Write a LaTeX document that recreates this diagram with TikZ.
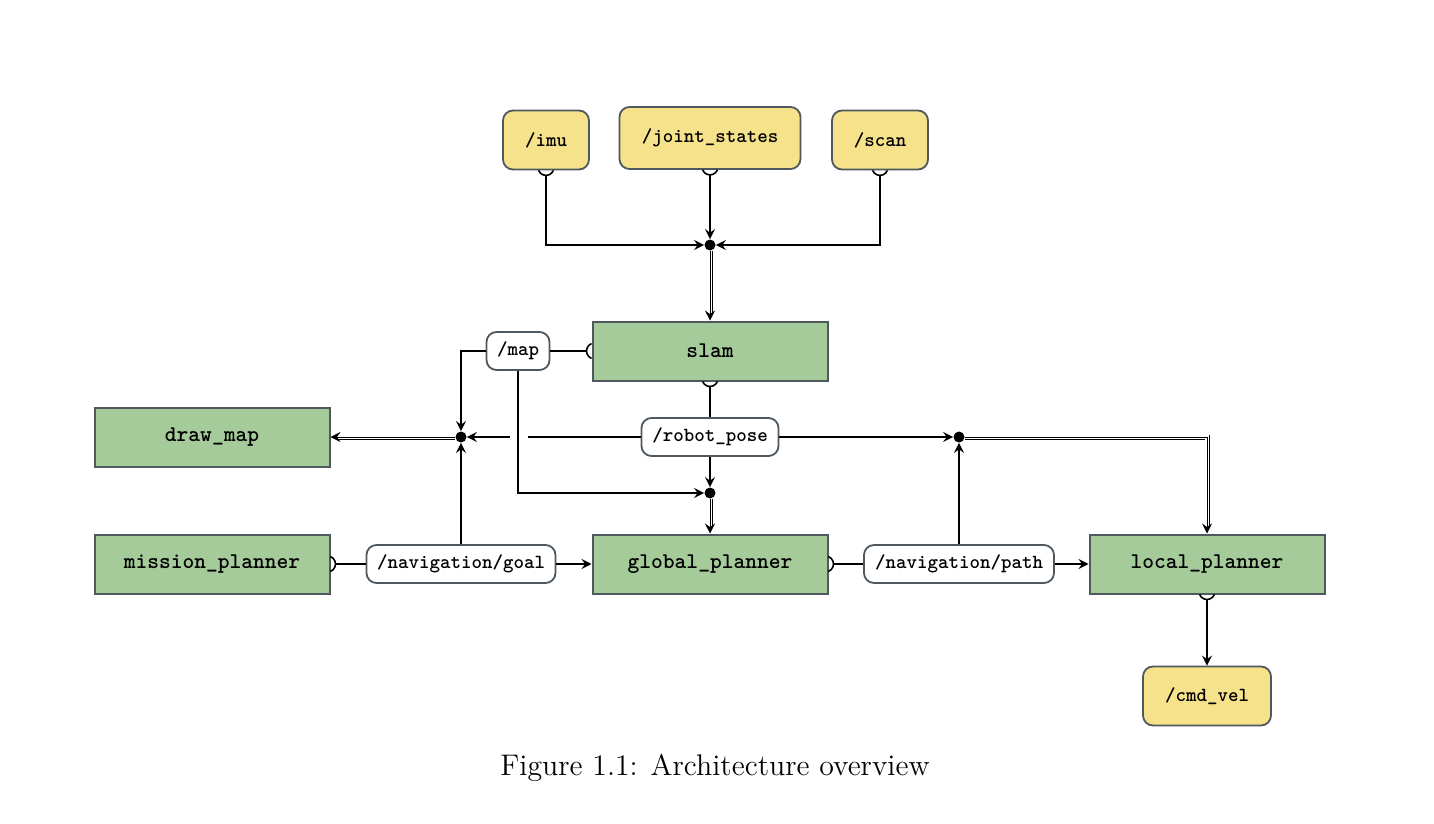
\documentclass[tikz,border=0pt]{standalone}
\usetikzlibrary{arrows.meta,calc}
\definecolor{ynode}{RGB}{246,226,139}
\definecolor{gnode}{RGB}{165,203,154}
\definecolor{bord}{RGB}{78,88,94}
\newcommand{\sockS}[1]{\draw[conn] ([yshift=1.5pt]#1) ++(202:4pt) arc[start angle=202,end angle=338,radius=4pt];}
\newcommand{\sockE}[1]{\draw[conn] ([xshift=-1.5pt]#1) ++(68:4pt) arc[start angle=68,end angle=-68,radius=4pt];}
\newcommand{\sockW}[1]{\draw[conn] ([xshift=1.5pt]#1) ++(112:4pt) arc[start angle=112,end angle=248,radius=4pt];}
\begin{document}
\begin{tikzpicture}[x=0.5pt,y=-0.5pt,
  proc/.style={draw=bord, fill=gnode, line width=1pt, minimum width=117.5pt, minimum height=29.5pt, inner sep=0pt,
    font=\fontsize{11.2}{13}\selectfont\ttfamily\bfseries},
  topic/.style={draw=bord, fill=ynode, rounded corners=5pt, line width=0.9pt, minimum height=29.5pt, inner sep=0pt,
    font=\fontsize{10}{12}\selectfont\ttfamily\bfseries},
  lbl/.style={draw=bord, fill=white, rounded corners=5pt, line width=0.9pt, minimum height=19pt, inner ysep=0pt, inner xsep=0pt,
    font=\fontsize{10}{12}\selectfont\ttfamily\bfseries},
  jdot/.style={circle, fill=black, inner sep=0pt, minimum size=5.5pt},
  conn/.style={line width=0.8pt},
  arr/.style={conn, -{Stealth[length=5pt,width=5pt,inset=1.8pt]}},
  dbl/.style={line width=0.4pt, line join=miter, -{Stealth[length=5pt,width=5pt,inset=1.8pt]},
    preaction={draw, arrows=-, line join=miter, double, double distance=1.6pt, line width=0.45pt, shorten >=3pt}}
]
\useasboundingbox (0,0) rectangle (1434,824);

% topics
\node[topic, minimum width=43pt] (imu) at (546,140) {/imu};
\node[topic, minimum width=90.5pt, minimum height=31pt] (js) at (710,138) {/joint\_states};
\node[topic, minimum width=48pt] (scan) at (880,140) {/scan};
\node[topic, minimum width=64pt] (cmd) at (1207,696) {/cmd\_vel};

% processes
\node[proc] (slam) at (710,351) {slam};
\node[proc] (drawmap) at (212,437) {draw\_map};
\node[proc] (mp) at (212,564) {mission\_planner};
\node[proc] (gp) at (710,564) {global\_planner};
\node[proc] (lp) at (1207,564) {local\_planner};

% labels
\node[lbl, minimum width=31.5pt] (map) at (518,351) {/map};
\node[lbl, minimum width=68.5pt] (rp) at (710,437) {/robot\_pose};
\node[lbl, minimum width=94.5pt] (goal) at (461,564) {/navigation/goal};
\node[lbl, minimum width=95pt] (path) at (959,564) {/navigation/path};

% junctions
\node[jdot] (jT) at (710,245) {};
\node[jdot] (jL) at (461,437) {};
\node[jdot] (jG) at (710,493) {};
\node[jdot] (jR) at (959,437) {};
\coordinate (g1) at (528,437);
\coordinate (g2) at (510,437);

% sockets
\sockS{imu.south}
\sockS{js.south}
\sockS{scan.south}
\sockW{slam.west}
\sockS{slam.south}
\sockE{mp.east}
\sockE{gp.east}
\sockS{lp.south}

% connectors
\draw[arr] ([yshift=-2.5pt]imu.south) |- (jT);
\draw[arr] ([yshift=-2.5pt]js.south) -- (jT);
\draw[arr] ([yshift=-2.5pt]scan.south) |- (jT);
\draw[dbl] (jT) -- (slam.north);

\draw[conn] ([xshift=-2.5pt]slam.west) -- (map.east);
\draw[arr] (map.west) -| (jL);
\draw[arr] (map.south) |- (jG);

\draw[conn] ([yshift=-2.5pt]slam.south) -- (rp.north);
\draw[arr] (rp.south) -- (jG);
\draw[conn] (rp.west) -- (g1);
\draw[arr] (g2) -- (jL);
\draw[arr] (rp.east) -- (jR);

\draw[dbl] (jL) -- (drawmap.east);
\draw[dbl] (jG) -- (gp.north);
\draw[dbl] (jR) -| (lp.north);

\draw[conn] ([xshift=2.5pt]mp.east) -- (goal.west);
\draw[arr] (goal.north) -- (jL);
\draw[arr] (goal.east) -- (gp.west);

\draw[conn] ([xshift=2.5pt]gp.east) -- (path.west);
\draw[arr] (path.north) -- (jR);
\draw[arr] (path.east) -- (lp.west);

\draw[arr] ([yshift=-2.5pt]lp.south) -- (cmd.north);

% caption
\node[font=\fontsize{14.9}{17}\selectfont] (cap) at (715,768) {Figure 1.1: Architecture overview};
\end{tikzpicture}
\end{document}
